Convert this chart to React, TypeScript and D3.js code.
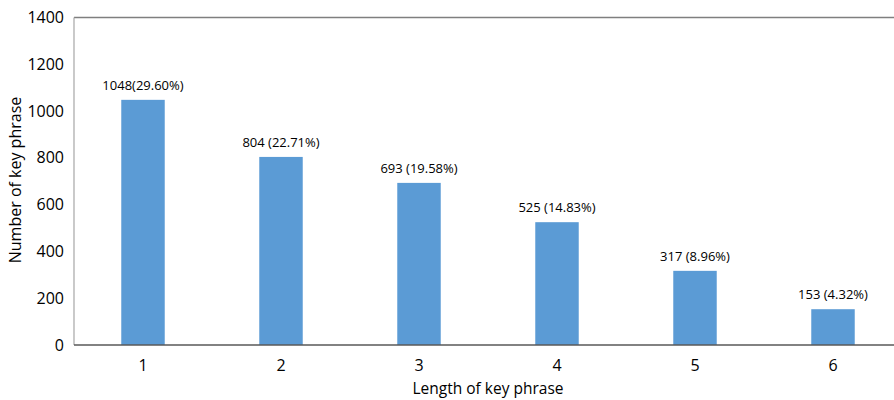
import React from "react";
import * as d3 from "d3";

const categories = ["1", "2", "3", "4", "5", "6"];
const values = [1048, 804, 693, 525, 317, 153];
const labels = ["1048(29.60%)", "804 (22.71%)", "693 (19.58%)", "525 (14.83%)", "317 (8.96%)", "153 (4.32%)"];
const yTicks = [0, 200, 400, 600, 800, 1000, 1200, 1400];

export default function App() {
  const W = 894, H = 400;
  const left = 74, right = 902, top = 17.5, bottom = 345;
  const x = d3.scaleBand<string>().domain(categories).range([left, right]).paddingInner(0.685).paddingOuter(0.3425);
  const y = d3.scaleLinear().domain([0, 1400]).range([bottom, top]);
  const font = "'Open Sans', 'Noto Sans', sans-serif";
  return (
    <svg width={W} height={H} style={{ position: "absolute", left: 0, top: 0, background: "#fff" }} fontFamily={font}>
      <line x1={left} x2={W} y1={top} y2={top} stroke="#7f7f7f" strokeWidth={1.5} />
      <line x1={left} x2={left} y1={top} y2={bottom} stroke="#a6a6a6" strokeWidth={1.2} />
      {values.map((v, i) => (
        <g key={i}>
          <rect x={x(categories[i])} y={y(v)} width={x.bandwidth()} height={bottom - y(v)} fill="#5b9bd5" />
          <text x={x(categories[i])! + x.bandwidth() / 2} y={y(v) - 10} textAnchor="middle" fontSize={13} fill="#000">{labels[i]}</text>
          <text x={x(categories[i])! + x.bandwidth() / 2} y={371} textAnchor="middle" fontSize={16} fill="#000">{categories[i]}</text>
        </g>
      ))}
      <line x1={left} x2={W} y1={bottom} y2={bottom} stroke="#595959" strokeWidth={1.5} />
      {yTicks.map((t) => (
        <text key={t} x={64} y={y(t) + 5.5} textAnchor="end" fontSize={16} fill="#000">{t}</text>
      ))}
      <text x={488} y={394} textAnchor="middle" fontSize={15.5} fill="#000">Length of key phrase</text>
      <text transform={`translate(21,${180}) rotate(-90)`} textAnchor="middle" fontSize={16} fill="#000">Number of key phrase</text>
    </svg>
  );
}
